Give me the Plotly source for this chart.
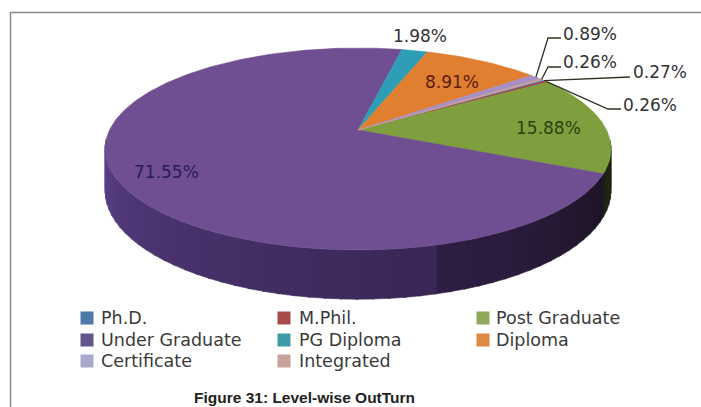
import numpy as np
import plotly.graph_objects as go

categories = ["Ph.D.", "M.Phil.", "Post Graduate", "Under Graduate", "PG Diploma", "Diploma", "Certificate", "Integrated"]
values = [0.27, 0.26, 15.88, 71.55, 1.98, 8.91, 0.89, 0.26]
slice_colors = ["#4a74a8", "#a8403f", "#7f9f3e", "#6f4f92", "#2e9db6", "#e07f30", "#a68fc6", "#c9a09a"]
legend_colors = ["#4f79a8", "#a84a4c", "#8fa85a", "#64558a", "#3f9aa8", "#de8a45", "#a9a9cc", "#c9a29e"]
label_texts = ["0.27%", "0.26%", "15.88%", "71.55%", "1.98%", "8.91%", "0.89%", "0.26%"]
label_pos = [(660, 72), (650, 105), (548, 128), (166, 172), (420, 36), (452, 82), (590, 34), (590, 62)]
label_colors = ["#333333", "#333333", "#2a4210", "#2a1a55", "#333333", "#5e1a10", "#333333", "#333333"]
leader_paths = {
    0: [(583, 79), (630, 77)],
    1: [(608, 109), (621, 109)],
    6: [(548, 38), (561, 38)],
    7: [(548, 67), (561, 67)],
}
legend_cols = [87, 284, 483]
legend_text_x = [99, 297, 494]
legend_rows = [318, 340, 361]
wall_stops = [(114.5, "#1f1528"), (163.9, "#2f1f45"), (164.0, "#3a2756"), (225, "#4b3470"), (258, "#5c4286")]

# projection of the tilted disc
X0, Y0, AX, BY, P, DEPTH = 358.0, 130.0, 248.5, 97.4, 0.188, 40.0
START = 55.4


def project(theta_deg, drop=0.0):
    t = np.radians(theta_deg)
    u, v = np.sin(t), np.cos(t)
    w = 1 + P * v
    return X0 + AX * u / w, Y0 - BY * v / w + drop / w


def hex_rgb(h):
    return np.array([int(h[i:i + 2], 16) for i in (1, 3, 5)], float)


def wall_color(a):
    xs = [s[0] for s in wall_stops]
    rgb = [np.interp(a, xs, [hex_rgb(s[1])[k] for s in wall_stops]) for k in range(3)]
    return "rgb(%d,%d,%d)" % tuple(rgb)


fig = go.Figure()
shares = np.array(values) / sum(values) * 360
edges = START + np.concatenate([[0], np.cumsum(shares)])


def poly(xs, ys, color):
    fig.add_trace(go.Scatter(x=xs, y=ys, mode="lines", fill="toself", fillcolor=color,
                             line=dict(width=0.6, color=color), hoverinfo="skip", showlegend=False))


# side wall
green_end = edges[3]
for a0 in np.arange(96, 262, 3.0):
    a1 = a0 + 3.4
    tx0, ty0 = project(a0); tx1, ty1 = project(a1)
    bx0, by0 = project(a0, DEPTH); bx1, by1 = project(a1, DEPTH)
    col = "#1c2410" if a0 < green_end - 1 else wall_color(a0)
    poly([tx0, tx1, bx1, bx0, tx0], [ty0, ty1, by1, by0, ty0], col)

# top face
for i, c in enumerate(categories):
    th = np.linspace(edges[i], edges[i + 1], max(3, int(shares[i]) + 3))
    x, y = project(th)
    poly(np.r_[X0, x, X0], np.r_[Y0, y, Y0], slice_colors[i])

# leaders
for i, pts in leader_paths.items():
    mid = (edges[i] + edges[i + 1]) / 2
    sx, sy = project(mid)
    fig.add_trace(go.Scatter(x=[sx] + [p[0] for p in pts], y=[sy] + [p[1] for p in pts], mode="lines",
                             line=dict(color="#2b3320", width=1.3), hoverinfo="skip", showlegend=False))

# legend, three columns filled row by row
for k, (c, col) in enumerate(zip(categories, legend_colors)):
    r, q = k // 3, k % 3
    fig.add_trace(go.Scatter(x=[legend_cols[q]], y=[legend_rows[r]], mode="markers", name=c, showlegend=False,
                             hoverinfo="name", marker=dict(symbol="square", size=13, color=col)))
    fig.add_annotation(x=legend_text_x[q], y=legend_rows[r], text=c, showarrow=False, xanchor="left",
                       font=dict(family="DejaVu Sans", size=17.5, color="#3a3a3a"))

for t, (x, y), col in zip(label_texts, label_pos, label_colors):
    fig.add_annotation(x=x, y=y, text=t, showarrow=False, font=dict(family="DejaVu Sans", size=17, color=col))

fig.add_annotation(x=304, y=397, text="<b>Figure 31: Level-wise OutTurn</b>", showarrow=False,
                   font=dict(family="Liberation Sans", size=15.5, color="#222222"))

fig.update_layout(
    width=701, height=407, margin=dict(l=0, r=0, t=0, b=0),
    paper_bgcolor="white", plot_bgcolor="white",
    showlegend=False,
    xaxis=dict(range=[0, 701], visible=False, fixedrange=True),
    yaxis=dict(range=[407, 0], visible=False, fixedrange=True),
    shapes=[
        dict(type="line", xref="x", yref="y", x0=10.5, x1=10.5, y0=12.5, y1=407, line=dict(color="#8a8a8a", width=1.5)),
        dict(type="line", xref="x", yref="y", x0=10, x1=701, y0=12.5, y1=12.5, line=dict(color="#8a8a8a", width=1.5)),
    ],
)
fig.write_html("out.html", config={"displayModeBar": False},
               post_script="document.body.style.margin='0';document.body.style.overflow='hidden';")
